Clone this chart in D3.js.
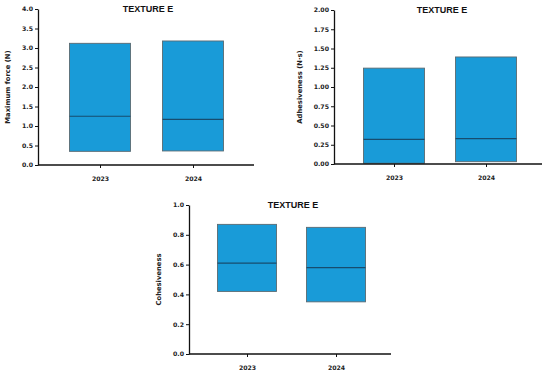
<!DOCTYPE html>
<html><head><meta charset="utf-8">
<script src="https://cdn.jsdelivr.net/npm/d3@7"></script>
<style>body{margin:0;background:#fff;} svg{display:block;}</style>
</head><body>
<svg id="c" width="550" height="373"></svg>
<script>
const years = ["2023", "2024"];
const title = "TEXTURE E";
// [bottom, median, top]
const forceBoxes = [[0.35, 1.25, 3.12], [0.36, 1.17, 3.18]];
const adhesBoxes = [[0.01, 0.32, 1.245], [0.03, 0.33, 1.39]];
const cohesBoxes = [[0.42, 0.61, 0.87], [0.35, 0.58, 0.85]];
const forceTicks = ["0.0","0.5","1.0","1.5","2.0","2.5","3.0","3.5","4.0"];
const adhesTicks = ["0.00","0.25","0.50","0.75","1.00","1.25","1.50","1.75","2.00"];
const cohesTicks = ["0.0","0.2","0.4","0.6","0.8","1.0"];

const svg = d3.select("#c");

function panel(o) {
  const g = svg.append("g");
  const y = d3.scaleLinear().domain([0, o.max]).range([o.y0, o.y1]);
  const x = d3.scalePoint().domain(years).range([o.c0, o.c1]);
  o.data.forEach((d, i) => {
    const cx = x(years[i]);
    g.append("rect").attr("x", cx - o.bw/2).attr("width", o.bw)
      .attr("y", y(d[2])).attr("height", y(d[0]) - y(d[2]))
      .attr("fill", "#199bd8").attr("stroke", "#5a6a72").attr("stroke-width", 0.9);
    g.append("line").attr("x1", cx - o.bw/2).attr("x2", cx + o.bw/2)
      .attr("y1", y(d[1])).attr("y2", y(d[1]))
      .attr("stroke", "#174c6e").attr("stroke-width", 1.2);
  });
  const ya = g.append("g").attr("transform", `translate(${o.ax},0)`)
    .call(d3.axisLeft(y).tickValues(o.ticks.map(Number)).tickFormat((v,i)=>o.ticks[i]).tickSize(3).tickSizeOuter(0));
  ya.select(".domain").attr("stroke", "#111").attr("stroke-width", 1.3);
  ya.selectAll(".tick line").attr("stroke", "#111").attr("stroke-width", 1);
  ya.selectAll(".tick text").attr("font-family", "DejaVu Sans").attr("font-weight", "bold")
    .attr("font-size", 6.2).attr("fill", "#222").attr("x", -5);
  const xa = g.append("g").attr("transform", `translate(0,${o.y0})`)
    .call(d3.axisBottom(x).tickSize(3).tickSizeOuter(0));
  xa.select(".domain").attr("d", `M${o.ax},0H${o.xEnd}`).attr("stroke", "#111").attr("stroke-width", 1.3);
  xa.selectAll(".tick line").attr("stroke", "#111").attr("stroke-width", 1);
  xa.selectAll(".tick text").attr("font-family", "DejaVu Sans").attr("font-weight", "bold")
    .attr("font-size", 6.2).attr("fill", "#222").attr("y", 11.5);
  g.append("text").attr("x", o.tx).attr("y", o.y1 + 3).attr("text-anchor", "middle")
    .attr("font-family", "Liberation Sans, Arial").attr("font-weight", "bold")
    .attr("font-size", 9).attr("fill", "#111").text(title);
  g.append("text").attr("transform", `translate(${o.lx},${(o.y0 + o.y1)/2}) rotate(-90)`)
    .attr("text-anchor", "middle").attr("font-family", "DejaVu Sans").attr("font-weight", "bold")
    .attr("font-size", 6.8).attr("fill", "#222").text(o.label);
}

panel({data: forceBoxes, ticks: forceTicks, max: 4, y0: 165, y1: 9, ax: 38, xEnd: 254,
  c0: 100, c1: 193, bw: 61, tx: 148, lx: 9.5, label: "Maximum force (N)"});
panel({data: adhesBoxes, ticks: adhesTicks, max: 2, y0: 164, y1: 10, ax: 334, xEnd: 542,
  c0: 394, c1: 486, bw: 61, tx: 442, lx: 301.5, label: "Adhesiveness (N·s)"});
panel({data: cohesBoxes, ticks: cohesTicks, max: 1, y0: 354, y1: 205, ax: 189, xEnd: 391,
  c0: 247, c1: 336, bw: 59, tx: 293, lx: 160.5, label: "Cohesiveness"});
</script>
</body></html>
